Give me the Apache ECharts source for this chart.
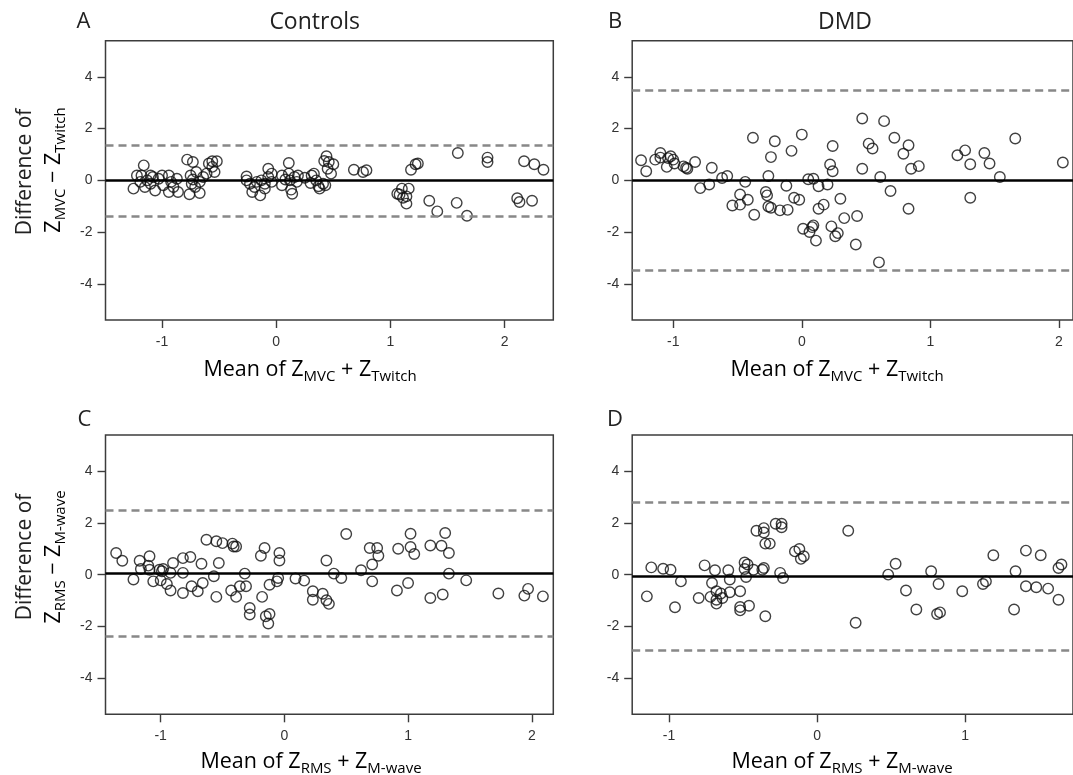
<!DOCTYPE html>
<html>
<head>
<meta charset="utf-8">
<script src="https://cdn.jsdelivr.net/npm/echarts@6/dist/echarts.min.js"></script>
<style>
  html, body { margin: 0; padding: 0; background: #fff; overflow: hidden; }
  #chart { width: 1073px; height: 775px; }
</style>
</head>
<body>
<div id="chart"></div>
<script>
// Bland-Altman agreement plots: mean of two z-scores (x) vs their difference (y)

// Panel A – Controls, MVC vs Twitch
const controlsMvcPoints = [
  [-1.25,-0.32],[-1.22,0.19],[-1.16,0.58],[-1.18,0.19],[-1.13,0.00],[-1.10,0.19],[-1.15,-0.26],[-1.06,-0.39],
  [-1.08,0.13],[-1.03,0.06],[-1.00,0.19],[-0.99,-0.19],[-0.94,0.19],[-0.94,-0.45],[-0.92,-0.06],[-0.87,0.06],
  [-0.86,-0.45],[-0.90,-0.26],[-1.19,-0.06],[-1.10,-0.13],
  [-0.78,0.80],[-0.73,0.71],[-0.76,-0.54],[-0.75,0.19],[-0.74,-0.13],[-0.70,0.32],[-0.71,-0.26],[-0.67,-0.49],
  [-0.67,-0.06],[-0.64,0.13],[-0.61,0.26],[-0.59,0.65],[-0.56,0.74],[-0.52,0.74],[-0.54,0.32],[-0.56,0.52],[-0.73,0.03],
  [-0.26,0.15],[-0.26,0.00],[-0.23,-0.13],[-0.21,-0.45],[-0.19,-0.26],[-0.17,-0.06],[-0.14,-0.58],[-0.13,0.00],
  [-0.10,-0.13],[-0.07,0.45],[-0.07,0.13],[-0.04,0.26],[-0.04,-0.06],[-0.10,-0.32],[0.05,0.19],[0.05,-0.19],
  [0.11,0.67],[0.11,0.26],[0.12,0.00],[0.13,-0.36],[0.14,-0.52],[0.16,0.13],[0.18,-0.06],[0.19,0.19],[0.08,0.03],
  [0.25,0.10],[0.30,-0.10],[0.31,0.19],[0.33,0.26],[0.35,0.00],[0.37,-0.23],[0.38,-0.32],[0.41,-0.13],[0.42,0.75],
  [0.44,0.93],[0.46,0.71],[0.50,0.62],[0.48,0.26],[0.45,0.45],[0.43,-0.19],
  [0.68,0.41],[0.76,0.32],[0.79,0.39],[1.06,-0.52],[1.08,-0.55],[1.10,-0.32],[1.16,-0.32],[1.14,-0.90],[1.14,-0.62],
  [1.11,-0.67],[1.18,0.41],[1.22,0.62],[1.24,0.65],[1.34,-0.79],[1.41,-1.20],[1.58,-0.87],[1.59,1.06],[1.67,-1.37],
  [1.85,0.88],[1.85,0.71],[2.17,0.74],[2.26,0.62],[2.34,0.41],[2.11,-0.69],[2.13,-0.84],[2.24,-0.79]
];
// Panel B – DMD, MVC vs Twitch
const dmdMvcPoints = [
  [-1.25,0.78],[-1.21,0.35],[-1.14,0.80],[-1.10,1.06],[-1.10,0.88],[-1.05,0.52],[-1.04,0.86],[-1.02,0.93],
  [-1.00,0.80],[-0.99,0.65],[-0.92,0.54],[-0.90,0.49],[-0.89,0.45],[-0.83,0.71],[-0.79,-0.30],[-0.72,-0.16],
  [-0.70,0.49],[-0.62,0.09],[-0.58,0.17],[-0.54,-0.97],[-0.48,-0.55],[-0.48,-0.94],[-0.42,-0.75],[-0.38,1.65],
  [-0.44,-0.06],[-0.37,-1.33],[-0.28,-0.45],[-0.27,-0.58],[-0.26,0.17],[-0.26,-1.01],[-0.24,-1.06],[-0.24,0.90],
  [-0.21,1.51],[-0.17,-1.16],[-0.12,-0.21],[-0.11,-1.14],[-0.08,1.14],[-0.06,-0.67],[-0.02,-0.75],[0.00,1.77],
  [0.01,-1.87],[0.05,0.04],[0.06,-2.00],[0.08,-1.81],[0.09,-1.74],[0.09,0.06],[0.11,-2.33],[0.13,-0.23],
  [0.13,-1.10],[0.17,-0.94],[0.20,-0.16],[0.22,0.61],[0.24,0.35],[0.24,1.33],[0.23,-1.78],[0.26,-2.16],
  [0.28,-2.04],[0.30,-0.71],[0.33,-1.46],[0.43,-1.38],[0.42,-2.48],[0.47,2.39],[0.47,0.45],[0.52,1.42],
  [0.55,1.23],[0.60,-3.17],[0.61,0.13],[0.64,2.29],[0.69,-0.41],[0.72,1.65],[0.79,1.03],[0.83,1.36],
  [0.83,-1.10],[0.85,0.45],[0.91,0.55],[1.21,0.97],[1.27,1.16],[1.31,0.62],[1.31,-0.67],[1.42,1.06],
  [1.46,0.65],[1.54,0.13],[1.66,1.62],[2.03,0.69]
];
// Panel C – Controls, RMS vs M-wave
const controlsEmgPoints = [
  [-1.36,0.84],[-1.31,0.54],[-1.22,-0.19],[-1.17,0.54],[-1.16,0.22],[-1.09,0.71],[-1.10,0.35],[-1.09,0.19],
  [-1.06,-0.26],[-1.01,0.19],[-0.99,0.13],[-1.00,-0.22],[-0.98,0.22],[-0.95,-0.36],[-0.92,-0.61],[-0.92,0.07],
  [-0.90,0.45],[-0.82,0.64],[-0.82,0.07],[-0.82,-0.71],[-0.76,0.68],[-0.75,-0.45],[-0.70,-0.64],[-0.67,0.42],
  [-0.66,-0.32],[-0.63,1.35],[-0.57,-0.06],[-0.55,-0.86],[-0.55,1.29],[-0.53,0.45],[-0.50,1.22],[-0.43,-0.61],
  [-0.42,1.20],[-0.41,1.09],[-0.39,1.09],[-0.39,-0.86],[-0.36,-0.45],[-0.32,0.04],[-0.31,-0.45],[-0.28,-1.29],
  [-0.28,-1.54],[-0.18,-0.86],[-0.19,0.73],[-0.16,1.03],[-0.15,-1.61],[-0.13,-1.89],[-0.12,-1.52],[-0.12,-0.39],
  [-0.06,-0.26],[-0.05,-0.13],[-0.04,0.84],[-0.04,0.55],[0.09,-0.15],[0.16,-0.23],[0.23,-0.64],[0.23,-0.97],
  [0.31,-0.74],[0.34,-0.99],[0.36,-1.13],[0.34,0.55],[0.40,0.04],[0.46,-0.13],[0.50,1.57],[0.62,0.17],
  [0.69,1.03],[0.71,0.39],[0.71,-0.26],[0.75,1.03],[0.76,0.73],[0.91,-0.61],[0.92,1.00],[1.00,-0.32],
  [1.02,1.58],[1.02,1.07],[1.05,0.80],[1.18,1.13],[1.18,-0.90],[1.27,1.12],[1.28,-0.77],[1.30,1.61],
  [1.33,0.84],[1.33,0.04],[1.47,-0.22],[1.73,-0.73],[1.94,-0.81],[1.97,-0.55],[2.09,-0.84]
];
// Panel D – DMD, RMS vs M-wave
const dmdEmgPoints = [
  [-1.15,-0.84],[-1.12,0.28],[-1.04,0.23],[-0.99,0.19],[-0.96,-1.26],[-0.92,-0.26],[-0.80,-0.90],[-0.76,0.36],
  [-0.72,-0.86],[-0.71,-0.32],[-0.69,0.17],[-0.68,-0.64],[-0.68,-0.97],[-0.68,-1.12],[-0.65,-0.73],[-0.64,-0.90],
  [-0.60,0.17],[-0.59,-0.68],[-0.59,-0.19],[-0.52,-0.64],[-0.52,-1.25],[-0.52,-1.38],[-0.49,0.47],[-0.47,0.39],
  [-0.49,0.22],[-0.48,-0.09],[-0.46,-1.20],[-0.43,0.19],[-0.41,1.70],[-0.36,1.80],[-0.36,1.63],[-0.37,0.19],
  [-0.36,0.26],[-0.35,-1.61],[-0.35,1.20],[-0.32,1.20],[-0.28,1.97],[-0.24,1.97],[-0.24,1.83],[-0.25,0.07],
  [-0.23,-0.13],[-0.15,0.90],[-0.12,0.99],[-0.11,0.61],[-0.09,0.71],[0.21,1.70],[0.26,-1.86],[0.48,0.00],
  [0.53,0.42],[0.60,-0.61],[0.67,-1.35],[0.77,0.13],[0.82,-0.36],[0.81,-1.52],[0.83,-1.46],[0.98,-0.64],
  [1.12,-0.36],[1.14,-0.26],[1.19,0.75],[1.34,0.13],[1.33,-1.35],[1.41,0.93],[1.41,-0.45],[1.48,-0.49],
  [1.51,0.75],[1.56,-0.54],[1.63,0.26],[1.65,0.39],[1.63,-0.97]
];

// Mean difference, upper and lower limits of agreement
const controlsMvcLimits = [0.00, 1.37, -1.39];
const dmdMvcLimits = [0.00, 3.50, -3.49];
const controlsEmgLimits = [0.05, 2.48, -2.38];
const dmdEmgLimits = [-0.06, 2.81, -2.93];

// Axis ranges and tick values
const xRanges = [[-1.495, 2.426], [-1.319, 2.109], [-1.446, 2.174], [-1.249, 1.728]];
const yRange = [-5.4, 5.4];
const xTicks = [[-1, 0, 1, 2], [-1, 0, 1, 2], [-1, 0, 1, 2], [-1, 0, 1]];
const yTicks = [-4, -2, 0, 2, 4];

const panelLetters = ['A', 'B', 'C', 'D'];
const columnTitles = ['Controls', 'DMD'];

const panels = [controlsMvcPoints, dmdMvcPoints, controlsEmgPoints, dmdEmgPoints];
const limits = [controlsMvcLimits, dmdMvcLimits, controlsEmgLimits, dmdEmgLimits];

const TICK_FONT = "'Liberation Sans', Arial, sans-serif";
const TITLE_FONT = "'Open Sans', 'Liberation Sans', sans-serif";
const INK = '#222';
const FRAME = '#3c3c3c';

const gridBoxes = [
  { left: 105.5, top: 40.7, width: 447.8, height: 279.3 },
  { left: 632.2, top: 40.7, width: 447.2, height: 279.3 },
  { left: 105.5, top: 435, width: 447.8, height: 279.3 },
  { left: 632.2, top: 435, width: 447.2, height: 279.3 }
];

const grids = gridBoxes.map(b => Object.assign({
  show: true, borderColor: FRAME, borderWidth: 1.5, backgroundColor: 'transparent', containLabel: false
}, b));

const xAxes = panels.map((_, i) => ({
  type: 'value', gridIndex: i, min: xRanges[i][0], max: xRanges[i][1],
  axisLine: { show: false, onZero: false },
  splitLine: { show: false },
  axisTick: { show: true, length: 8, lineStyle: { color: FRAME, width: 1.4 }, customValues: xTicks[i] },
  axisLabel: { customValues: xTicks[i], margin: 15, fontSize: 14, color: '#333', fontFamily: TICK_FONT }
}));

const yAxes = panels.map((_, i) => ({
  type: 'value', gridIndex: i, min: yRange[0], max: yRange[1],
  axisLine: { show: false, onZero: false },
  splitLine: { show: false },
  axisTick: { show: true, length: 8, lineStyle: { color: FRAME, width: 1.4 }, customValues: yTicks },
  axisLabel: { customValues: yTicks, margin: 13, fontSize: 14, color: '#333', fontFamily: TICK_FONT }
}));

const series = panels.map((pts, i) => ({
  type: 'scatter', xAxisIndex: i, yAxisIndex: i,
  data: pts,
  symbol: 'circle', symbolSize: 10.5,
  itemStyle: { color: 'rgba(0,0,0,0)', borderColor: '#111', borderWidth: 1.4 },
  silent: true,
  markLine: {
    silent: true, symbol: 'none', animation: false,
    label: { show: false },
    data: [
      { yAxis: limits[i][1], lineStyle: { color: '#888', width: 2.6, type: [8, 5] } },
      { yAxis: limits[i][2], lineStyle: { color: '#888', width: 2.6, type: [8, 5] } },
      { yAxis: limits[i][0], lineStyle: { color: '#000', width: 2.6, type: 'solid' } }
    ]
  }
}));

const mainStyle = { fontSize: 21.5, fontFamily: TITLE_FONT, color: INK };
const subStyle = { fontSize: 15, fontFamily: TITLE_FONT, color: INK, padding: [14, 0, 0, 0] };
const rich = { m: mainStyle, s: subStyle };

function richText(x, y, text, rotate) {
  return {
    type: 'text', x: x, y: y, rotation: rotate ? Math.PI / 2 : 0, silent: true,
    style: { text: text, rich: rich, align: 'center', verticalAlign: 'middle' }
  };
}
function plainText(x, y, text, size, rotate) {
  return {
    type: 'text', x: x, y: y, rotation: rotate ? Math.PI / 2 : 0, silent: true,
    style: { text: text, fontSize: size, fontFamily: TITLE_FONT, fill: INK, align: 'center', verticalAlign: 'middle' }
  };
}

const xNameMvc = '{m|Mean of Z}{s|MVC}{m| + Z}{s|Twitch}';
const xNameEmg = '{m|Mean of Z}{s|RMS}{m| + Z}{s|M-wave}';
const yNameMvc = '{m|Z}{s|MVC}{m| − Z}{s|Twitch}';
const yNameEmg = '{m|Z}{s|RMS}{m| − Z}{s|M-wave}';

const graphics = [
  plainText(83.5, 22, panelLetters[0], 22),
  plainText(615, 22, panelLetters[1], 22),
  plainText(84.5, 420, panelLetters[2], 22),
  plainText(615, 420, panelLetters[3], 22),
  plainText(314.7, 22, columnTitles[0], 23),
  plainText(845, 22, columnTitles[1], 23),
  richText(310, 370, xNameMvc, false),
  richText(837, 370, xNameMvc, false),
  richText(311, 762, xNameEmg, false),
  richText(842, 762, xNameEmg, false),
  plainText(25, 172, 'Difference of', 21, true),
  richText(54, 170, yNameMvc, true),
  plainText(25, 557, 'Difference of', 21, true),
  richText(54, 557, yNameEmg, true)
];

const chart = echarts.init(document.getElementById('chart'), null, { renderer: 'canvas' });
chart.setOption({
  animation: false,
  backgroundColor: '#fff',
  grid: grids,
  xAxis: xAxes,
  yAxis: yAxes,
  series: series,
  graphic: { elements: graphics }
});
</script>
</body>
</html>
